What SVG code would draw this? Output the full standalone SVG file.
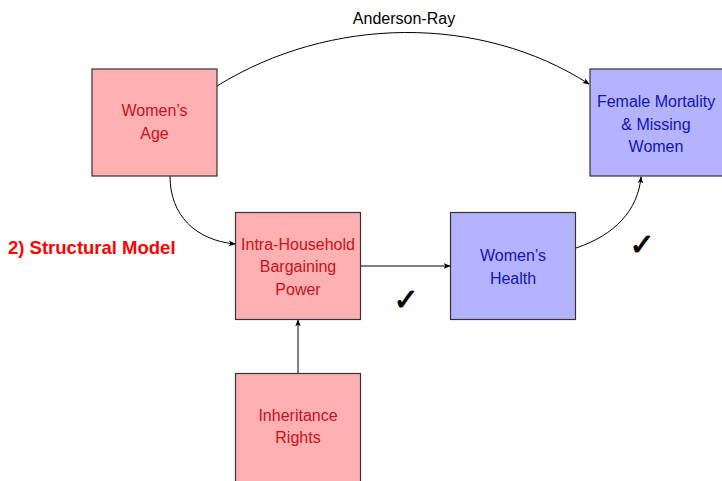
<svg xmlns="http://www.w3.org/2000/svg" width="722" height="481" viewBox="0 0 722 481">
<defs>
<marker id="arr" viewBox="0 0 10 10" refX="9" refY="5" markerWidth="7" markerHeight="7" markerUnits="userSpaceOnUse" orient="auto">
<path d="M0,1 L10,5 L0,9 L2.5,5 Z" fill="#000"/>
</marker>
<style>
.red rect{fill:#ffb0b0;stroke:#333;stroke-width:1.2}
.blue rect{fill:#b3b3ff;stroke:#333;stroke-width:1.2}
.red text{fill:#c8101e}
.blue text{fill:#1414b4}
text{font-family:"Liberation Sans",Arial,sans-serif;font-size:16px;text-anchor:middle}
.conn path{fill:none;stroke:#000;stroke-width:1;marker-end:url(#arr)}
.chk{font-family:"DejaVu Sans",sans-serif;font-size:30px;fill:#000;stroke:#000;stroke-width:1}
</style>
</defs>
<rect width="722" height="481" fill="#fff"/>
<g id="connectors" class="conn">
<path d="M217,86 C330,16 480,14 589,84"/>
<path d="M170,176 C170,215 195,240 235,244"/>
<path d="M361,266 L450,266"/>
<path d="M298,373 L298,320"/>
<path d="M576,248 C615,235 638,210 641,177"/>
</g>
<text x="404" y="24" fill="#000">Anderson-Ray</text>
<g id="age" class="red">
<rect x="92" y="69" width="125" height="107"/>
<text x="154.5" y="116">Women’s</text>
<text x="154.5" y="139">Age</text>
</g>
<g id="mortality" class="blue">
<rect x="590" y="69" width="134" height="107"/>
<text x="656" y="107">Female Mortality</text>
<text x="656" y="130">&amp; Missing</text>
<text x="656" y="152">Women</text>
</g>
<g id="bargaining" class="red">
<rect x="235.5" y="212.5" width="125" height="107"/>
<text x="298" y="250">Intra-Household</text>
<text x="298" y="272">Bargaining</text>
<text x="298" y="295">Power</text>
</g>
<g id="health" class="blue">
<rect x="450.5" y="212.5" width="125" height="107"/>
<text x="513" y="261">Women’s</text>
<text x="513" y="284">Health</text>
</g>
<g id="inheritance" class="red">
<rect x="235.5" y="373.5" width="125" height="120"/>
<text x="298" y="421">Inheritance</text>
<text x="298" y="443">Rights</text>
</g>
<text x="8" y="254" style="text-anchor:start;font-weight:bold;font-size:18.5px;fill:#ff0000">2) Structural Model</text>
<text class="chk" x="406" y="310">✓</text>
<text class="chk" x="642" y="255">✓</text>
</svg>
